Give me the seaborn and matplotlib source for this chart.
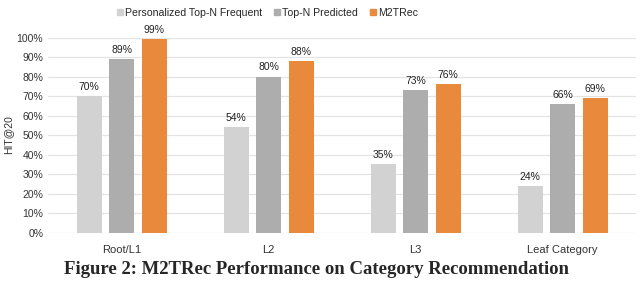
import matplotlib
matplotlib.use("Agg")
import matplotlib.pyplot as plt
import pandas as pd
import seaborn as sns

# data
categories = ["Root/L1", "L2", "L3", "Leaf Category"]
methods = ["Personalized Top-N Frequent", "Top-N Predicted", "M2TRec"]
frequent = [70, 54, 35, 24]
predicted = [89, 80, 73, 66]
m2trec = [99, 88, 76, 69]
y_ticks = [0, 10, 20, 30, 40, 50, 60, 70, 80, 90, 100]

colors = ["#D2D2D2", "#ADADAD", "#E8893B"]

rows = []
for name, vals in zip(methods, [frequent, predicted, m2trec]):
    for cat, v in zip(categories, vals):
        rows.append({"category": cat, "method": name, "hit": v})
df = pd.DataFrame(rows)

sns.set_theme(style="white")
plt.rcParams["font.family"] = ["Liberation Sans", "DejaVu Sans"]

fig = plt.figure(figsize=(6.4, 2.82), dpi=100)
ax = fig.add_axes([0.075, 0.1755, 0.919, 0.6915])

sns.barplot(data=df, x="category", y="hit", hue="method", order=categories,
            hue_order=methods, palette=colors, width=0.663, gap=0.23,
            saturation=1, linewidth=0, ax=ax, legend=False)

for cont, vals in zip(ax.containers, [frequent, predicted, m2trec]):
    ax.bar_label(cont, labels=[f"{v}%" for v in vals], padding=3,
                 fontsize=7.5, color="#222222")

ax.set_ylim(0, 100)
ax.set_yticks(y_ticks)
ax.set_yticklabels([f"{t}%" for t in y_ticks], fontsize=7.5, color="#333333")
ax.tick_params(axis="x", labelsize=8, colors="#333333", pad=9)
ax.tick_params(length=0)
ax.yaxis.grid(True, color="#E4E4E4", linewidth=0.9)
ax.set_axisbelow(True)
for s in ax.spines.values():
    s.set_visible(False)
ax.set_xlabel("")
ax.set_ylabel("HIT@20", fontsize=7.5, color="#333333", labelpad=2)

handles = [plt.Rectangle((0, 0), 1, 1, color=c) for c in colors]
fig.legend(handles, methods, loc="center", bbox_to_anchor=(0.418, 0.955),
           ncol=3, frameon=False, fontsize=7.6, handlelength=0.55,
           handleheight=0.55, handletextpad=0.25, columnspacing=1.1)

fig.text(0.495, 0.045, "Figure 2: M2TRec Performance on Category Recommendation",
         ha="center", va="center", fontsize=13.5, fontweight="bold",
         family=["Liberation Serif", "DejaVu Serif"])

fig.savefig("out.png", dpi=100)
